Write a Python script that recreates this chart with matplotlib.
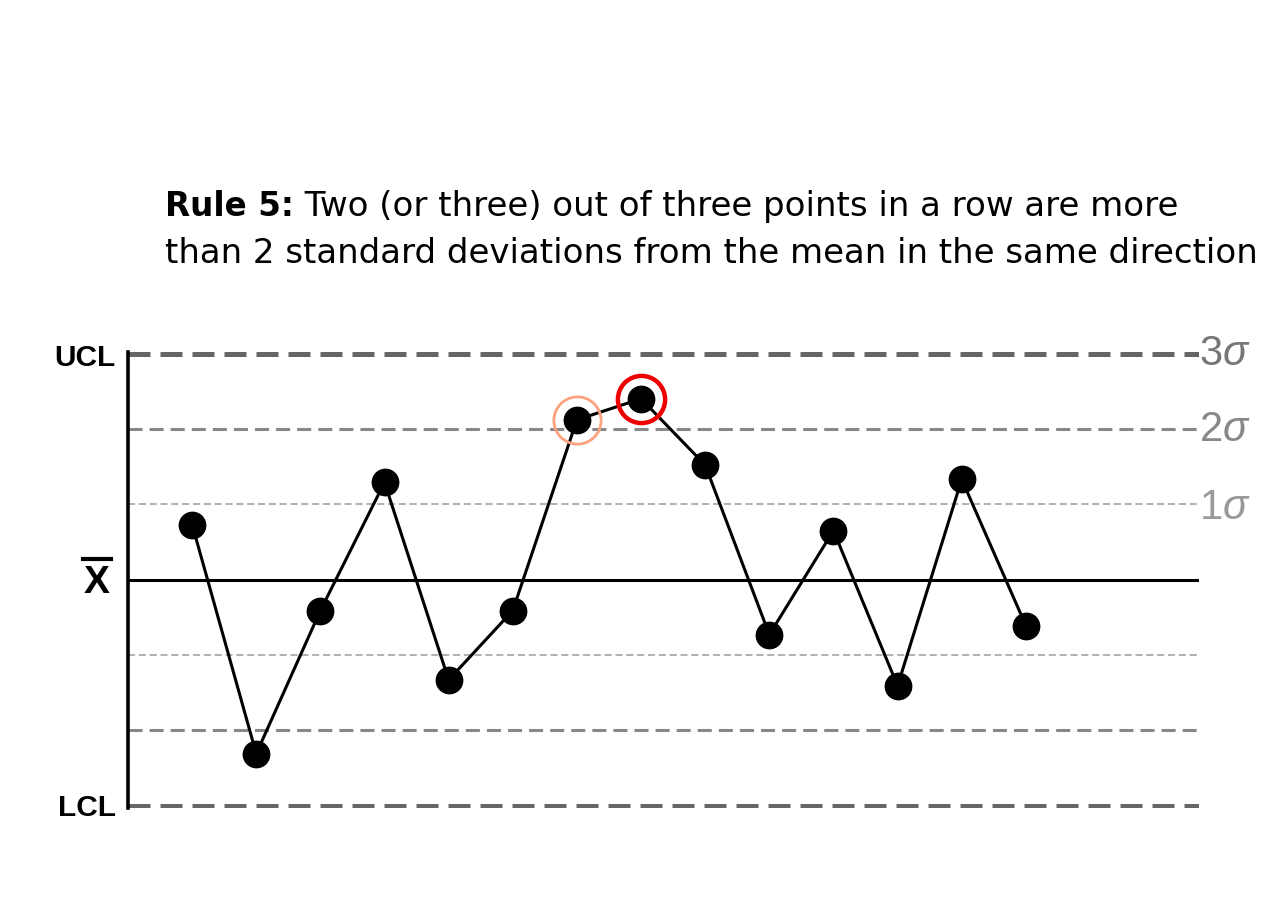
import matplotlib
matplotlib.use("Agg")
import matplotlib.pyplot as plt
from matplotlib.lines import Line2D

plt.rcParams['font.family'] = ['Liberation Sans', 'DejaVu Sans']
plt.rcParams['mathtext.fontset'] = 'custom'
plt.rcParams['mathtext.rm'] = 'Liberation Sans'
plt.rcParams['mathtext.it'] = 'Liberation Sans:italic'
plt.rcParams['mathtext.bf'] = 'Liberation Sans:bold'

# ---- data (in units of standard deviations from the mean) ----
sample = list(range(1, 15))
values = [0.73, -2.31, -0.41, 1.29, -1.33, -0.41, 2.12, 2.40, 1.52, -0.73, 0.65, -1.41, 1.33, -0.61]
warn_point = 7      # first point beyond 2 sigma (orange ring)
alarm_point = 8     # point triggering the rule (red ring)
sigma_levels = [1, 2, 3]
sigma_labels = [r'1$\sigma$', r'2$\sigma$', r'3$\sigma$']
title_bold = "Rule 5:"
title_line1 = " Two (or three) out of three points in a row are more"
title_line2 = "than 2 standard deviations from the mean in the same direction"

W, H = 1280, 924
fig = plt.figure(figsize=(W / 100, H / 100), dpi=100)


def fx(px):
    return px / W


def fy(py):
    return 1 - py / H


ax = fig.add_axes([fx(128), fy(808), 1071 / W, 456 / H])
ax.set_xlim(0, 16.70)
ax.set_ylim(-3.03, 3.02)

x0, x1 = ax.get_xlim()
styles = {
    1: dict(color='#aaaaaa', lw=1.3, dashes=(3.9, 2.1)),
    2: dict(color='#888888', lw=2.2, dashes=(4.6, 2.3)),
    3: dict(color='#666666', lw=3.6, dashes=(4.4, 2.0)),
}
for s in sigma_levels:
    st = styles[s]
    for sign in (1, -1):
        ax.plot([x0, x1], [sign * s, sign * s], color=st['color'], lw=st['lw'],
                dashes=st['dashes'], solid_capstyle='butt', dash_capstyle='butt', zorder=1)
ax.plot([x0, x1], [0, 0], color='black', lw=2.2, zorder=2)

ax.plot(sample, values, color='black', lw=2.2, zorder=3)
ax.plot(sample, values, 'o', color='black', ms=20, zorder=4, markeredgewidth=0)

ax.plot([warn_point], [values[warn_point - 1]], 'o', mfc='none', mec='#fca27f',
        ms=34, mew=2.0, zorder=5)
ax.plot([alarm_point], [values[alarm_point - 1]], 'o', mfc='none', mec='#ee0000',
        ms=34, mew=3.2, zorder=5)

for side in ('top', 'right', 'bottom'):
    ax.spines[side].set_visible(False)
ax.spines['left'].set_linewidth(2.6)
ax.spines['left'].set_color('black')
ax.set_xticks([])
ax.set_yticks([])
ax.patch.set_alpha(0)

# right sigma labels
lab_colors = {1: '#999999', 2: '#888888', 3: '#777777'}
sig_base = {3: 365, 2: 441, 1: 519}
for s, lab in zip(sigma_levels, sigma_labels):
    fig.text(fx(1199), fy(sig_base[s]), lab, ha='left', va='baseline', fontsize=30,
             color=lab_colors[s])

# left labels
fig.text(fx(116), fy(366), 'UCL', ha='right', va='baseline', fontsize=21.5,
         fontweight='bold', color='black')
fig.text(fx(116), fy(816), 'LCL', ha='right', va='baseline', fontsize=21.5,
         fontweight='bold', color='black')
fig.text(fx(97), fy(593), 'X', ha='center', va='baseline', fontsize=28,
         fontweight='bold', color='black')
fig.add_artist(Line2D([fx(83), fx(111)], [fy(559), fy(559)],
                      color='black', lw=3.0, transform=fig.transFigure))

# title
fig.canvas.draw()
renderer = fig.canvas.get_renderer()
tfam = ['DejaVu Sans']
tb = fig.text(fx(165), fy(216), title_bold, ha='left', va='baseline', fontsize=23.5,
              fontweight='bold', color='black', family=tfam)
bb = tb.get_window_extent(renderer=renderer)
fig.text(bb.x1 / fig.bbox.width, fy(216), title_line1, ha='left', va='baseline',
         fontsize=24.5, color='black', family=tfam)
fig.text(fx(165), fy(263), title_line2, ha='left', va='baseline', fontsize=24.5,
         color='black', family=tfam)

fig.savefig('out.png', dpi=100, facecolor='white')
